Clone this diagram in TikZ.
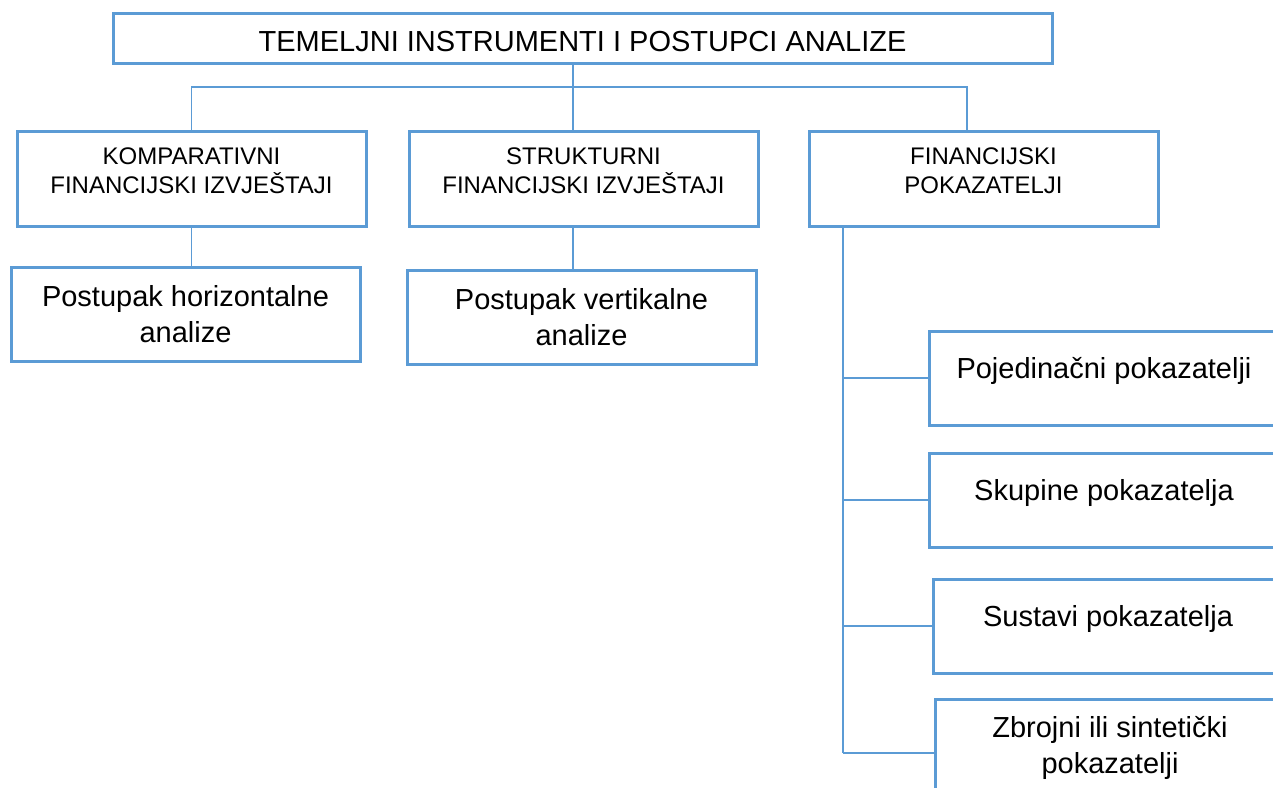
\documentclass[tikz,border=0pt]{standalone}
\usepackage{fontspec}
\setmainfont{Liberation Sans}
\usepackage{tikz}
\usetikzlibrary{positioning}
\definecolor{boxblue}{RGB}{91,155,213}
\tikzstyle{block} = [rectangle, draw=boxblue, line width=1.5pt, inner sep=0pt, outer sep=0pt, text centered, align=center, minimum width=174.5pt, minimum height=47pt, font=\fontsize{14.5pt}{18pt}\selectfont]
\tikzstyle{head} = [block, minimum height=47.5pt, text height=22.5pt, text depth=8pt, font=\fontsize{12pt}{14.5pt}\selectfont]
\tikzstyle{item} = [block, minimum width=175pt, text height=10pt, text depth=10pt]
\tikzstyle{link} = [draw=boxblue, line width=0.75pt]

\begin{document}
\begin{tikzpicture}[x=0.5pt, y=-0.5pt]

    \useasboundingbox (0,0) rectangle (1273,787);

    % Top block
    \node (top) [block, minimum width=469.5pt, minimum height=25pt, text height=13pt, text depth=0pt] at (582.5,38) {TEMELJNI INSTRUMENTI I POSTUPCI ANALIZE};

    % Second row
    \node (komparativni) [head] at (191.5,178.5) {KOMPARATIVNI\\FINANCIJSKI IZVJEŠTAJI};
    \node (strukturni) [head, right=21.5pt of komparativni] {STRUKTURNI\\FINANCIJSKI IZVJEŠTAJI};
    \node (financijski) [head, right=25.5pt of strukturni] {FINANCIJSKI\\POKAZATELJI};

    % Blocks under the first two
    \node (horizontalna) [block, below=20.5pt of komparativni, xshift=-3pt] {Postupak horizontalne\\analize};
    \node (vertikalna) [block, below=22pt of strukturni, xshift=-1pt] {Postupak vertikalne\\analize};

    % Blocks on the right
    \node (pojedinacni) [item] at (1104,378) {Pojedinačni pokazatelji};
    \node (skupine) [item, below=14pt of pojedinacni] {Skupine pokazatelja};
    \node (sustavi) [item, below=16pt of skupine, xshift=2pt] {Sustavi pokazatelja};
    \node (zbrojni) [item, below=13pt of sustavi, xshift=1pt, minimum height=54pt, text height=28pt, text depth=8pt] {Zbrojni ili sintetički\\pokazatelji};

    \coordinate (hub) at (573,87);
    \coordinate (rail) at (967,87);
    \coordinate (spine) at (843,753);

    \draw [link] (komparativni.north) -- (komparativni.north |- hub) -- (rail) -- (rail |- financijski.north);
    \draw [link] (top.south -| hub) -- (hub |- strukturni.north);
    \draw [link] (komparativni.south) -- (komparativni.south |- horizontalna.north);
    \draw [link] (hub |- strukturni.south) -- (hub |- vertikalna.north);
    \draw [link] (financijski.south -| spine) -- (spine |- zbrojni.west);
    \draw [link] (spine |- pojedinacni.west) -- (pojedinacni.west);
    \draw [link] (spine |- skupine.west) -- (skupine.west);
    \draw [link] (spine |- sustavi.west) -- (sustavi.west);
    \draw [link] (spine |- zbrojni.west) -- (zbrojni.west);

\end{tikzpicture}
\end{document}
